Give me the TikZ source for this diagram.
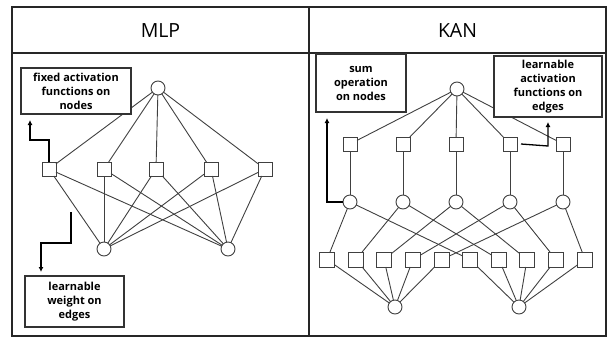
\documentclass[tikz,border=0pt]{standalone}
\usepackage{fontspec}
\setmainfont{Open Sans}
\usetikzlibrary{arrows.meta}
\begin{document}
\begin{tikzpicture}[x=1pt,y=-1pt,
  edge/.style={draw=black!75, line width=0.9pt},
  sq/.style={draw=black!75, fill=white, line width=0.9pt, minimum size=14pt, inner sep=0pt, outer sep=0pt},
  sqs/.style={sq, minimum size=15pt},
  cir/.style={circle, draw=black!75, fill=white, line width=0.9pt, minimum size=14pt, inner sep=0pt, outer sep=0pt},
  lbox/.style={draw=black!80, fill=white, line width=1.1pt, align=center, inner sep=0pt,
    font=\bfseries\fontsize{11}{14}\selectfont},
  frame/.style={draw=black!85, line width=1.2pt},
  title/.style={font=\fontsize{19.5}{21}\selectfont, inner sep=0pt},
  pointer/.style={draw=black, line width=1.3pt, -{Latex[length=5pt,width=5pt]}}
]
\useasboundingbox (0,0) rectangle (608,338);
% frame
\draw[frame] (12,7) rectangle (606,336);
\draw[frame] (12,53) -- (606,53);
\draw[frame] (309,7) -- (309,336);
\node[title] (tm) at (160.5,31) {MLP};
\node[title] (tk) at (457.5,31) {KAN};

% ---------- MLP ----------
\node[cir] (m0) at (158,88) {};
\foreach \i/\x in {1/49,2/104,3/156,4/211,5/265}
  \node[sq] (ms\i) at (\x,169) {};
\node[cir] (mb1) at (104,249) {};
\node[cir] (mb2) at (228,249) {};
\foreach \i in {1,...,5} {
  \draw[edge] (m0) -- (ms\i);
  \draw[edge] (ms\i) -- (mb1);
  \draw[edge] (ms\i) -- (mb2);
}

% ---------- KAN ----------
\node[cir] (k0) at (457,89) {};
\foreach \i/\x in {1/350,2/403,3/456,4/510,5/563} {
  \node[sq] (ks\i) at (\x,144) {};
  \node[cir] (kc\i) at (\x,202) {};
}
\foreach \i/\x in {1/327,2/356,3/384,4/413,5/442,6/470,7/499,8/527,9/556,10/585}
  \node[sqs] (kt\i) at (\x,259.5) {};
\node[cir] (kb1) at (395,307) {};
\node[cir] (kb2) at (519,307) {};
\foreach \i in {1,...,5} {
  \draw[edge] (k0) -- (ks\i);
  \draw[edge] (ks\i) -- (kc\i);
  \pgfmathtruncatemacro{\j}{\i+5}
  \draw[edge] (kc\i) -- (kt\i);
  \draw[edge] (kc\i) -- (kt\j);
  \draw[edge] (kt\i) -- (kb1);
  \draw[edge] (kt\j) -- (kb2);
}

% ---------- label boxes ----------
\node[lbox, minimum width=110pt, minimum height=46pt] (b1) at (76,91)
  {fixed activation\\functions on\\nodes};
\node[lbox, minimum width=99pt, minimum height=51pt] (b2) at (74.5,301.5)
  {learnable\\weight on\\edges};
\node[lbox, minimum width=90pt, minimum height=58pt] (b3) at (361,83)
  {sum\\operation\\on nodes};
\node[lbox, minimum width=108pt, minimum height=61pt] (b4) at (548,86.5)
  {learnable\\activation\\functions on\\edges};

% ---------- pointers ----------
\coordinate (w0) at (71,212);
\draw[pointer] (ms1.north) -- (49,140) -- (30,140) -- (30,120);
\draw[pointer] (w0) -- (71,243) -- (41,243) -- (41,272);
\draw[pointer] (kc1.west) -- (327,202) -- (327,118);
\draw[pointer] ([xshift=4pt]ks4.east) -- (548,146) -- (548,122);
\end{tikzpicture}
\end{document}
